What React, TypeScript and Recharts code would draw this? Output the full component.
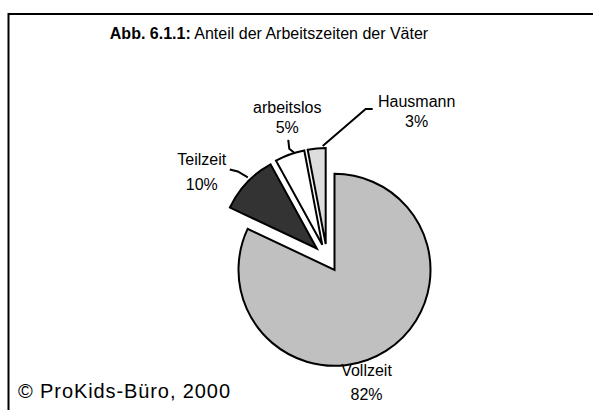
import { PieChart, Pie, Cell } from "recharts";

const categories = ["Vollzeit", "Teilzeit", "arbeitslos", "Hausmann"];
const shares = [82, 10, 5, 3];
const fills = ["#c0c0c0", "#333333", "#ffffff", "#dddddd"];

const title = "Anteil der Arbeitszeiten der Väter";
const titlePrefix = "Abb. 6.1.1:";
const source = "© ProKids-Büro, 2000";

const W = 593;
const H = 410;
const CX = 327;
const CY = 258;
const RADIUS = 96;
const EXPLODE = 14;
const FONT = "'Liberation Sans', Arial, sans-serif";

// label spots measured from the tip of each (exploded) slice
const labelLayout = [
  { dx: 32, dy: 106, gap: 24, line: [] as number[][] },
  { dx: -115, dy: -83, gap: 25, line: [[-87, -79], [-79, -77], [-69, -71]] },
  { dx: -35, dy: -132, gap: 20, line: [[-34, -105], [-33, -96], [-28, -92]] },
  { dx: 91, dy: -137, gap: 20, line: [[47, -135], [40, -135], [-3, -98]] },
];

const data = categories.map((name, i) => ({ name, value: shares[i] }));
const total = shares.reduce((a, b) => a + b, 0);

// offset of each slice along its bisector (clockwise from 12 o'clock)
const offsets = shares.map((v, i) => {
  const before = shares.slice(0, i).reduce((a, b) => a + b, 0);
  const mid = ((before + v / 2) / total) * 2 * Math.PI;
  return { x: Math.sin(mid) * EXPLODE, y: -Math.cos(mid) * EXPLODE };
});

const renderLabel = (own: number) => (props: any) => {
  if (props.index !== own) return null;
  const cx = Number(props.cx);
  const cy = Number(props.cy);
  const l = labelLayout[own];
  return (
    <g key={`lbl-${own}`}>
      {l.line.length > 0 && (
        <polyline
          points={l.line.map(([x, y]) => `${cx + x},${cy + y}`).join(" ")}
          fill="none"
          stroke="#000"
          strokeWidth={2}
        />
      )}
      <text
        x={cx + l.dx}
        y={cy + l.dy}
        textAnchor="middle"
        fontFamily={FONT}
        fontSize={16}
        fill="#000"
      >
        {props.name}
      </text>
      <text
        x={cx + l.dx}
        y={cy + l.dy + l.gap}
        textAnchor="middle"
        fontFamily={FONT}
        fontSize={16}
        fill="#000"
      >
        {`${props.value}%`}
      </text>
    </g>
  );
};

const App = () => {
  return (
    <div style={{ position: "absolute", left: 0, top: 0, width: W, height: H, background: "#fff" }}>
      <svg width={W} height={H} style={{ position: "absolute", left: 0, top: 0 }}>
        <line x1={8.5} y1={14} x2={W + 10} y2={14} stroke="#000" strokeWidth={2} />
        <line x1={8.5} y1={13} x2={8.5} y2={H + 10} stroke="#000" strokeWidth={2} />
        <text x={269} y={39} textAnchor="middle" fontFamily={FONT} fontSize={16} fill="#000">
          <tspan fontWeight="bold">{titlePrefix}</tspan> {title}
        </text>
        <text
          x={18}
          y={398}
          fontFamily={FONT}
          fontSize={20}
          fill="#000"
          textLength={212}
          lengthAdjust="spacing"
        >
          {source}
        </text>
      </svg>
      <div style={{ position: "absolute", left: 0, top: 0 }}>
        <PieChart width={W} height={H} margin={{ top: 0, right: 0, bottom: 0, left: 0 }}>
          {data.map((_, own) => (
            <Pie
              key={own}
              data={data}
              dataKey="value"
              nameKey="name"
              cx={CX + offsets[own].x}
              cy={CY + offsets[own].y}
              innerRadius={0}
              outerRadius={RADIUS}
              startAngle={90}
              endAngle={-270}
              label={renderLabel(own)}
              labelLine={false}
              isAnimationActive={false}
            >
              {data.map((d, i) => (
                <Cell
                  key={d.name}
                  fill={i === own ? fills[i] : "none"}
                  stroke={i === own ? "#000" : "none"}
                  strokeWidth={2}
                />
              ))}
            </Pie>
          ))}
        </PieChart>
      </div>
    </div>
  );
};

export default App;
